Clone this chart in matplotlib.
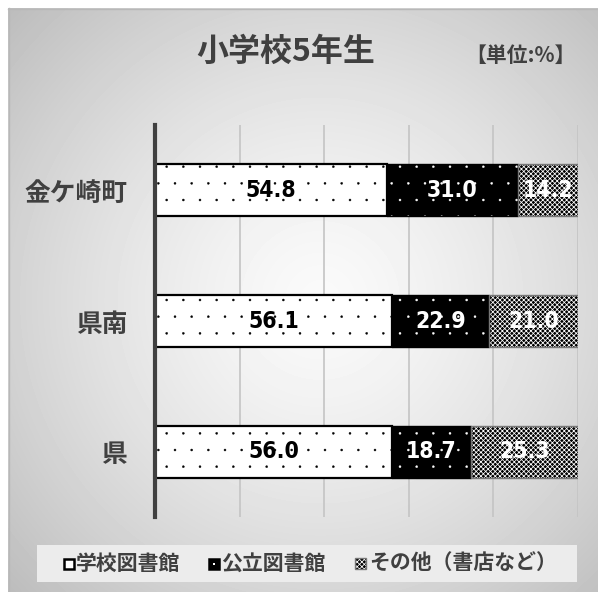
import numpy as np
import matplotlib
matplotlib.use("Agg")
import matplotlib.pyplot as plt
import matplotlib.hatch as mhatch
from matplotlib.patches import Rectangle

# ---- data ----
categories = ["金ケ崎町", "県南", "県"]
series_names = ["学校図書館", "公立図書館", "その他（書店など）"]
school = [54.8, 56.1, 56.0]
public = [31.0, 22.9, 18.7]
other = [14.2, 21.0, 25.3]
title = "小学校5年生"
unit_label = "【単位:%】"

JP = ["Noto Sans CJK JP", "DejaVu Sans"]
plt.rcParams["font.family"] = JP
TXT = "#404040"


# finer dot hatch for the '.' pattern
class TinyDots(mhatch.Circles):
    size = 0.06
    filled = True

    def __init__(self, hatch, density):
        self.num_rows = hatch.count('.') * density
        super().__init__(hatch, density)


mhatch._hatch_types = [TinyDots if t is mhatch.SmallFilledCircles else t
                       for t in mhatch._hatch_types]

W, H = 598, 592
fig = plt.figure(figsize=(W / 100, H / 100), dpi=100)
fig.patch.set_facecolor("white")

# ---- background panel with radial gradient ----
bg = fig.add_axes([0, 0, 1, 1], zorder=-10)
bg.set_xlim(0, W)
bg.set_ylim(H, 0)
bg.axis("off")
yy, xx = np.mgrid[8:H, 8:W]
cx, cy = 320, 300
r = np.hypot((xx - cx) / 300.0, (yy - cy) / 300.0) / np.sqrt(2)
shade = np.clip(0.98 - 0.24 * r ** 1.4, 0, 1)
bg.imshow(shade, cmap="gray", vmin=0, vmax=1, extent=[8, W, H, 8],
          interpolation="bilinear", aspect="auto")
bg.plot([8, W], [8.5, 8.5], color="#b8b8b8", lw=1)
bg.plot([8.5, 8.5], [8, H], color="#b8b8b8", lw=1)

# legend band
bg.add_patch(Rectangle((37, 545), 540, 37, facecolor="#ececec", edgecolor="none"))

# ---- main axes ----
ax = fig.add_axes([155 / W, 1 - 517 / H, 423 / W, 392 / H])
ax.patch.set_alpha(0)
y = np.arange(len(categories))
h = 0.4

school_a = np.array(school)
public_a = np.array(public)
other_a = np.array(other)

# hatched fills (hatch colour follows edgecolor), then outlines
with plt.rc_context({"hatch.linewidth": 0.3}):
    ax.barh(y, school_a, height=h, color="white", edgecolor="black", hatch=".", lw=0, zorder=2)
    ax.barh(y, public_a, left=school_a, height=h, color="black", edgecolor="white", hatch=".", lw=0, zorder=2)
with plt.rc_context({"hatch.linewidth": 0.55}):
    ax.barh(y, other_a, left=school_a + public_a, height=h, color="black", edgecolor="white",
            hatch="xxxxxxx", lw=0, zorder=2)
ax.barh(y, school_a, height=h, fill=False, edgecolor="black", lw=1.6, zorder=3)
ax.barh(y, public_a, left=school_a, height=h, fill=False, edgecolor="black", lw=1.0, zorder=3)
ax.barh(y, other_a, left=school_a + public_a, height=h, fill=False, edgecolor="#777777", lw=1.0, zorder=3)

lab = dict(ha="center", va="center", fontsize=16.5, fontweight="bold",
           family="DejaVu Sans", fontstretch="condensed", zorder=4)
for i in range(len(categories)):
    ax.text(school_a[i] / 2, y[i], f"{school_a[i]:.1f}", color="black", **lab)
    ax.text(school_a[i] + public_a[i] / 2, y[i], f"{public_a[i]:.1f}", color="white", **lab)
    ax.text(school_a[i] + public_a[i] + other_a[i] / 2, y[i], f"{other_a[i]:.1f}", color="white", **lab)

ax.set_xlim(0, 100)
ax.set_ylim(len(categories) - 0.5, -0.5)
ax.set_xticks([0, 20, 40, 60, 80, 100])
ax.xaxis.grid(True, color="#c4c4c4", lw=1.2, zorder=0)
ax.set_axisbelow(True)
ax.tick_params(axis="x", length=0, labelbottom=False)
ax.tick_params(axis="y", length=0, pad=20)
ax.set_yticks(y)
ax.set_yticklabels(categories, fontsize=18.5, color=TXT, fontweight="bold")
for s in ["top", "right", "bottom"]:
    ax.spines[s].set_visible(False)
ax.spines["left"].set_color("#404040")
ax.spines["left"].set_linewidth(3)
ax.spines["left"].set_zorder(5)

# ---- titles ----
fig.text(286 / W, 1 - 52 / H, title, ha="center", va="center", fontsize=23,
         fontweight="bold", color=TXT)
fig.text(520 / W, 1 - 55 / H, unit_label, ha="center", va="center", fontsize=15,
         fontweight="bold", color=TXT)

# ---- legend ----
ly = 563.5
markers = [
    dict(x=64, face="white", edge="black", hatch=None, hc=None),
    dict(x=209, face="black", edge="black", hatch=None, hc=None),
    dict(x=355, face="black", edge="#777777", hatch="xxxxxxx", hc="white"),
]
text_x = [76, 221, 369]
for m, tx, name in zip(markers, text_x, series_names):
    if m["hatch"]:
        with plt.rc_context({"hatch.linewidth": 0.55}):
            bg.add_patch(Rectangle((m["x"], ly - 5.5), 11, 11, facecolor=m["face"],
                                   edgecolor=m["hc"], hatch=m["hatch"], lw=0))
        bg.add_patch(Rectangle((m["x"], ly - 5.5), 11, 11, fill=False, edgecolor=m["edge"], lw=1))
    else:
        bg.add_patch(Rectangle((m["x"], ly - 5), 10, 10, facecolor=m["face"],
                               edgecolor=m["edge"], lw=1.8))
    fig.text(tx / W, 1 - ly / H, name, ha="left", va="center", fontsize=15,
             fontweight="bold", color=TXT)
# white dot inside the public-library key
bg.add_patch(Rectangle((213, ly - 1), 2, 2, facecolor="white", edgecolor="none"))

fig.savefig("out.png", dpi=100)
